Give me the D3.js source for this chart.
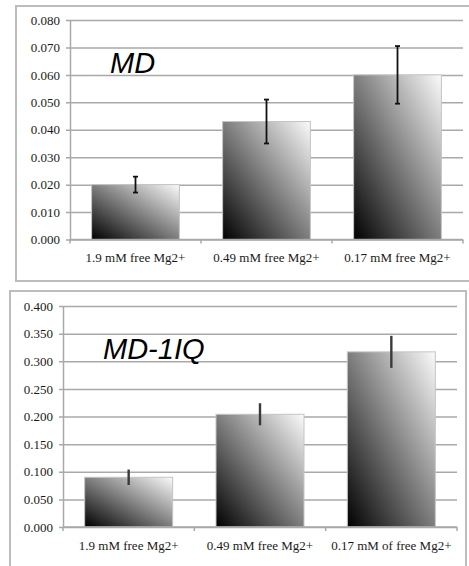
<!DOCTYPE html>
<html>
<head>
<meta charset="utf-8">
<script src="https://cdn.jsdelivr.net/npm/d3@7"></script>
<style>
  html, body { margin: 0; padding: 0; background: #fff; }
  svg { display: block; }
</style>
</head>
<body>
<svg id="chart" width="469" height="566"></svg>
<script>
// Data: rate values with standard-error bars for two constructs
const categoriesTop = ["1.9 mM free Mg2+", "0.49 mM free Mg2+", "0.17 mM free Mg2+"];
const valuesTop = [0.020, 0.043, 0.060];
const errorsTop = [0.0029, 0.008, 0.0105];
const ticksTop = [0, 0.01, 0.02, 0.03, 0.04, 0.05, 0.06, 0.07, 0.08];

const categoriesBottom = ["1.9 mM free Mg2+", "0.49 mM free Mg2+", "0.17 mM of free Mg2+"];
const valuesBottom = [0.090, 0.204, 0.317];
const errorsBottom = [0.014, 0.020, 0.029];
const ticksBottom = [0, 0.05, 0.10, 0.15, 0.20, 0.25, 0.30, 0.35, 0.40];

const svg = d3.select("#chart");

// Shared diagonal grey gradient for the bars
const defs = svg.append("defs");
const grad = defs.append("linearGradient")
  .attr("id", "barGrad")
  .attr("x1", 0).attr("y1", 1).attr("x2", 1).attr("y2", 0);
grad.append("stop").attr("offset", "0%").attr("stop-color", "#000");
grad.append("stop").attr("offset", "100%").attr("stop-color", "#fbfbfb");

const gridColor = "#a9a9a9";
const serif = "'Liberation Serif', 'Times New Roman', serif";

function panel(cfg) {
  const g = svg.append("g");

  // Panel frame
  g.append("rect")
    .attr("x", cfg.frame[0]).attr("y", cfg.frame[1])
    .attr("width", cfg.frame[2]).attr("height", cfg.frame[3])
    .attr("fill", "none").attr("stroke", "#bdbdbd").attr("stroke-width", 2);

  const x = d3.scaleBand()
    .domain(cfg.categories)
    .range([cfg.x0, cfg.x1])
    .paddingInner(0.33).paddingOuter(0.165);
  const y = d3.scaleLinear()
    .domain([0, cfg.max])
    .range([cfg.yBottom, cfg.yTop]);

  // Y axis with horizontal gridlines
  const yAxis = d3.axisLeft(y)
    .tickValues(cfg.ticks)
    .tickSizeInner(-(cfg.x1 - cfg.x0))
    .tickSizeOuter(0)
    .tickPadding(10)
    .tickFormat(d3.format(".3f"));
  const ya = g.append("g")
    .attr("transform", `translate(${cfg.x0},0)`)
    .call(yAxis);
  ya.attr("font-family", serif).attr("font-size", 13);
  ya.select(".domain").attr("stroke", gridColor).attr("stroke-width", 1.5);
  ya.selectAll(".tick line")
    .attr("x1", -4)
    .attr("stroke", gridColor).attr("stroke-width", 1.5);
  ya.selectAll(".tick text")
    .attr("font-family", serif)
    .attr("font-size", 13)
    .attr("fill", "#1a1a1a");

  // Bars
  g.selectAll("rect.bar")
    .data(cfg.values)
    .join("rect")
    .attr("class", "bar")
    .attr("x", (d, i) => x(cfg.categories[i]))
    .attr("y", d => y(d))
    .attr("width", x.bandwidth())
    .attr("height", d => y(0) - y(d))
    .attr("fill", "url(#barGrad)")
    .attr("stroke", "#c4c4c4")
    .attr("stroke-width", 1);

  // X axis line with category dividers
  g.append("line")
    .attr("x1", cfg.x0).attr("x2", cfg.x1)
    .attr("y1", y(0)).attr("y2", y(0))
    .attr("stroke", gridColor).attr("stroke-width", 1.5);
  const dividers = d3.range(cfg.categories.length + 1).map(k => cfg.x0 + k * x.step());
  g.selectAll("line.div")
    .data(dividers)
    .join("line")
    .attr("class", "div")
    .attr("x1", d => d).attr("x2", d => d)
    .attr("y1", y(0)).attr("y2", y(0) + 4)
    .attr("stroke", gridColor).attr("stroke-width", 1.5);

  // Error bars
  const ex = (i) => x(cfg.categories[i]) + x.bandwidth() / 2;
  g.selectAll("line.err")
    .data(cfg.values)
    .join("line")
    .attr("class", "err")
    .attr("x1", (d, i) => ex(i)).attr("x2", (d, i) => ex(i))
    .attr("y1", (d, i) => y(d + cfg.errors[i]))
    .attr("y2", (d, i) => y(d - cfg.errors[i]))
    .attr("stroke", cfg.errColor).attr("stroke-width", cfg.errWidth);
  if (cfg.caps) {
    const caps = [];
    cfg.values.forEach((d, i) => {
      caps.push({ i, v: d + cfg.errors[i] });
      caps.push({ i, v: d - cfg.errors[i] });
    });
    g.selectAll("line.cap")
      .data(caps)
      .join("line")
      .attr("class", "cap")
      .attr("x1", c => ex(c.i) - 2.5).attr("x2", c => ex(c.i) + 2.5)
      .attr("y1", c => y(c.v)).attr("y2", c => y(c.v))
      .attr("stroke", cfg.errColor).attr("stroke-width", 1.8);
  }

  // Category labels
  g.selectAll("text.cat")
    .data(cfg.categories)
    .join("text")
    .attr("class", "cat")
    .attr("x", d => x(d) + x.bandwidth() / 2)
    .attr("y", cfg.labelY)
    .attr("text-anchor", "middle")
    .attr("font-family", serif)
    .attr("font-size", 13)
    .attr("fill", "#1a1a1a")
    .text(d => d);

  // Panel title
  g.append("text")
    .attr("x", cfg.titleX).attr("y", cfg.titleY)
    .attr("font-family", "'Liberation Sans', Arial, sans-serif")
    .attr("font-style", "italic")
    .attr("font-size", 29)
    .attr("fill", "#000")
    .text(cfg.title);
}

panel({
  frame: [16, 6, 470, 275],
  categories: categoriesTop, values: valuesTop, errors: errorsTop, ticks: ticksTop,
  max: 0.08, x0: 70, x1: 463, yBottom: 239.5, yTop: 20,
  errColor: "#111", errWidth: 1.8, caps: true,
  labelY: 262, title: "MD", titleX: 110, titleY: 73
});

panel({
  frame: [10, 291, 456, 276],
  categories: categoriesBottom, values: valuesBottom, errors: errorsBottom, ticks: ticksBottom,
  max: 0.4, x0: 63, x1: 457, yBottom: 527, yTop: 306,
  errColor: "#3a3a3a", errWidth: 2.4, caps: false,
  labelY: 550, title: "MD-1IQ", titleX: 103, titleY: 359
});
</script>
</body>
</html>
